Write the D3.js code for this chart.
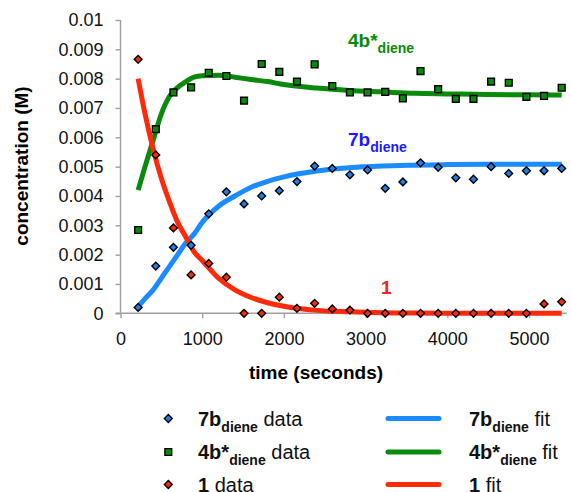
<!DOCTYPE html>
<html>
<head>
<meta charset="utf-8">
<script src="https://cdn.jsdelivr.net/npm/d3@7"></script>
<style>
  body { margin: 0; background: #fff; }
  text { font-family: "Liberation Sans", Arial, Helvetica, sans-serif; }
</style>
</head>
<body>
<svg id="chart" width="571" height="492"></svg>
<script>
// sample times (s)
const times = [216, 432, 648, 864, 1080, 1296, 1512, 1728, 1944, 2160, 2376, 2592, 2808,
  3024, 3240, 3456, 3672, 3888, 4104, 4320, 4536, 4752, 4968, 5184, 5400];
const data7b = [0.0002, 0.00161, 0.00225, 0.00232, 0.00339, 0.00414, 0.00373, 0.004, 0.00418,
  0.00449, 0.00502, 0.00494, 0.00472, 0.00489, 0.00426, 0.00448, 0.00513, 0.00498, 0.00462,
  0.00457, 0.005, 0.00477, 0.00486, 0.00486, 0.00494];
const data4b = [0.00284, 0.00628, 0.00753, 0.0077, 0.0082, 0.00809, 0.00725, 0.0085, 0.00823,
  0.0079, 0.00849, 0.00775, 0.00753, 0.00753, 0.00755, 0.00733, 0.00826, 0.00764, 0.00731,
  0.00731, 0.0079, 0.00786, 0.00738, 0.00741, 0.00769];
const data1 = [0.00866, 0.0054, 0.00291, 0.00131, 0.0017, 0.00123, 0, 0, 0.00055, 0.00017,
  0.00034, 0.00015, 0.00011, 0, 0, 0, 0, 0, 0, 0, 0, 0, 0, 0.00032, 0.00039];

// fitted curves
const fitTimes = [216, 300, 400, 500, 600, 700, 800, 900, 1000, 1200, 1400, 1600, 1800, 2000,
  2400, 2800, 3200, 3600, 4000, 4500, 5000, 5400];
const fit7b = [0.00023, 0.0005, 0.0008, 0.0012, 0.0016, 0.002, 0.0024, 0.0027, 0.0031, 0.00365,
  0.004, 0.0043, 0.0045, 0.00465, 0.00485, 0.00496, 0.00502, 0.00505, 0.00507, 0.00508, 0.00508, 0.00508];
const fit4b = [0.0042, 0.005, 0.0059, 0.0068, 0.0074, 0.0077, 0.0079, 0.00805, 0.0081, 0.00812,
  0.00805, 0.00797, 0.0079, 0.0078, 0.00768, 0.0076, 0.00755, 0.0075, 0.00748, 0.00746, 0.00745, 0.00744];
const fit1 = [0.008, 0.0068, 0.0056, 0.0046, 0.0038, 0.0031, 0.0026, 0.0021, 0.0018, 0.0012,
  0.0008, 0.00054, 0.00036, 0.00024, 0.0001, 0.00005, 0.00002, 0.00001, 0, 0, 0, 0];

const xTicks = [0, 1000, 2000, 3000, 4000, 5000];
const yTicks = [0, 0.001, 0.002, 0.003, 0.004, 0.005, 0.006, 0.007, 0.008, 0.009, 0.01];

const BLUE_LINE = "#1a8cff", BLUE_PT = "#2080e8", BLUE_TXT = "#1a1aff";
const GREEN = "#0a8a0a", RED_LINE = "#ff2a0a", RED_PT = "#ff2a00", RED_TXT = "#ff2020";
const AXIS = "#a0a0a0";

const svg = d3.select("#chart");
const x = d3.scaleLinear().domain([0, 5460]).range([120.5, 566.6]);
const y = d3.scaleLinear().domain([0, 0.01]).range([313.3, 20]);

// axes
const yAxis = svg.append("g").attr("transform", "translate(120.5,0)")
  .call(d3.axisLeft(y).tickValues(yTicks).tickSize(5).tickPadding(12)
    .tickFormat(d => d === 0 ? "0" : String(+d.toFixed(3))));
const xAxis = svg.append("g").attr("transform", "translate(0,313.3)")
  .call(d3.axisBottom(x).tickValues(xTicks).tickSize(5).tickPadding(14)
    .tickFormat(d3.format("d")));
[yAxis, xAxis].forEach(a => {
  a.selectAll("path, line").attr("stroke", AXIS).attr("stroke-width", 1.4);
  a.selectAll("text").attr("fill", "#111").style("font-size", "18px");
});
yAxis.select(".domain").attr("d", "M0,20V313.3");
xAxis.select(".domain").attr("d", "M115.5,0H566.6");

svg.append("text")
  .attr("transform", "translate(28,166) rotate(-90)")
  .attr("text-anchor", "middle")
  .style("font-size", "19px").style("font-weight", "bold")
  .text("concentration (M)");
svg.append("text")
  .attr("x", 316).attr("y", 379)
  .attr("text-anchor", "middle")
  .style("font-size", "19px").style("font-weight", "bold")
  .text("time (seconds)");

// fit lines
const line = d3.line().x(d => x(d[0])).y(d => y(d[1])).curve(d3.curveMonotoneX);
const fits = [[fit7b, BLUE_LINE], [fit4b, GREEN], [fit1, RED_LINE]];
fits.forEach(([vals, c]) => {
  svg.append("path")
    .datum(fitTimes.map((t, i) => [t, vals[i]]))
    .attr("d", line)
    .attr("fill", "none").attr("stroke", c).attr("stroke-width", 5)
    .attr("stroke-linejoin", "round");
});

// markers
const diamond = "M0,-3.9L3.9,0L0,3.9L-3.9,0Z";
const square = "M-3.4,-3.4H3.4V3.4H-3.4Z";
function markers(vals, shape, fill) {
  svg.append("g").selectAll("path")
    .data(times.map((t, i) => [t, vals[i]]))
    .join("path")
    .attr("transform", d => `translate(${x(d[0])},${y(d[1])})`)
    .attr("d", shape)
    .attr("fill", fill).attr("stroke", "#000").attr("stroke-width", 1.4);
}
markers(data4b, square, GREEN);
markers(data7b, diamond, BLUE_PT);
markers(data1, diamond, RED_PT);

// in-plot labels
function label(px, py, main, sub, col, size, subSize) {
  const t = svg.append("text").attr("x", px).attr("y", py)
    .attr("fill", col).style("font-weight", "bold").style("font-size", size + "px");
  t.append("tspan").text(main);
  if (sub) t.append("tspan").attr("dy", 6).style("font-size", subSize + "px").text(sub);
  return t;
}
label(348, 47, "4b*", "diene", GREEN, 19, 14);
label(348, 146, "7b", "diene", BLUE_TXT, 19, 14);
label(381, 294, "1", null, RED_TXT, 19);

// legend
const legendRows = [
  { main: "7b", sub: "diene", shape: diamond, fill: BLUE_PT, line: BLUE_LINE, y: 418.5 },
  { main: "4b*", sub: "diene", shape: square, fill: GREEN, line: GREEN, y: 452 },
  { main: "1", sub: null, shape: diamond, fill: RED_PT, line: RED_LINE, y: 484.5 }
];
const lg = svg.append("g").selectAll("g").data(legendRows).join("g")
  .attr("transform", d => `translate(0,${d.y})`);
lg.append("path").attr("transform", "translate(168.3,0)")
  .attr("d", d => d.shape).attr("fill", d => d.fill)
  .attr("stroke", "#000").attr("stroke-width", 1.4);
lg.append("line").attr("x1", 388).attr("x2", 439).attr("y1", 0).attr("y2", 0)
  .attr("stroke", d => d.line).attr("stroke-width", 5).attr("stroke-linecap", "round");
function legendText(sel, x0, word) {
  const t = sel.append("text").attr("x", x0).attr("y", 7).style("font-size", "20px").attr("fill", "#111");
  t.append("tspan").style("font-weight", "bold").text(d => d.main);
  t.filter(d => d.sub).append("tspan").attr("dy", 6).style("font-weight", "bold")
    .style("font-size", "14px").text(d => d.sub);
  t.append("tspan").attr("dy", d => d.sub ? -6 : 0).text(d => "\u00a0" + word);
}
legendText(lg, 198, "data");
legendText(lg, 469, "fit");
</script>
</body>
</html>
